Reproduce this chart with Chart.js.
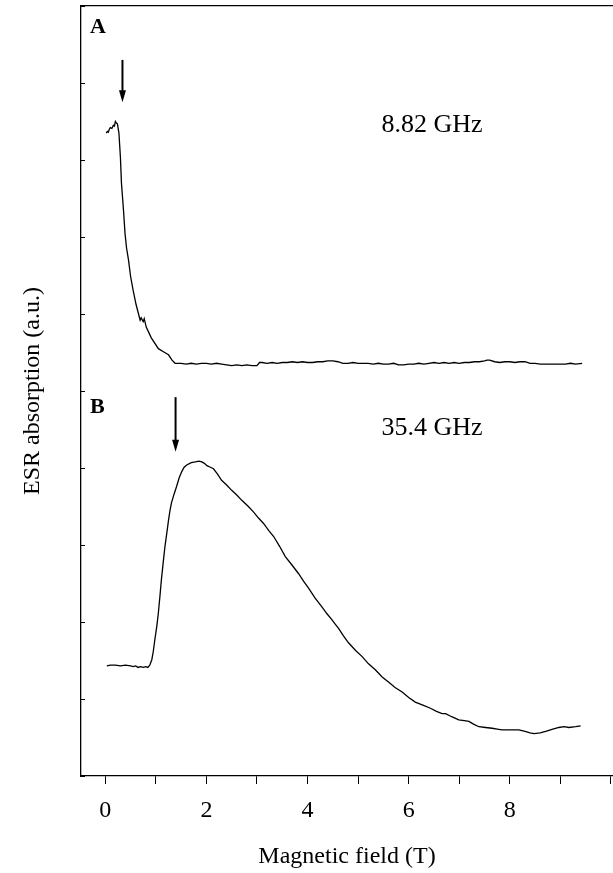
<!DOCTYPE html>
<html>
<head>
<meta charset="utf-8">
<script src="https://cdn.jsdelivr.net/npm/chart.js@4/dist/chart.umd.min.js"></script>
<style>
  body { margin: 0; background: #fff; }
  canvas { display: block; }
</style>
</head>
<body>
<canvas id="esrChart" width="613" height="873"></canvas>
<script>
// spectrum A, 8.82 GHz
const fieldA = [0.02, 0.04, 0.06, 0.08, 0.10, 0.13, 0.16, 0.18, 0.20, 0.22, 0.24, 0.27, 0.30, 0.32, 0.36, 0.39,
    0.42, 0.46, 0.50, 0.55, 0.61, 0.69, 0.71, 0.75, 0.77, 0.81, 0.91, 1.05, 1.15, 1.25, 1.32, 1.38,
    1.5, 1.6, 1.7, 1.8, 1.9, 2.0, 2.1, 2.2, 2.3, 2.4, 2.5, 2.6, 2.7, 2.8, 2.9, 3.0, 3.05, 3.1, 3.2,
    3.3, 3.4, 3.5, 3.6, 3.7, 3.8, 3.9, 4.0, 4.1, 4.2, 4.3, 4.4, 4.5, 4.6, 4.7, 4.8, 4.9, 5.0, 5.1,
    5.2, 5.3, 5.4, 5.5, 5.6, 5.7, 5.8, 5.9, 6.0, 6.1, 6.2, 6.3, 6.4, 6.5, 6.6, 6.7, 6.8, 6.9, 7.0,
    7.1, 7.2, 7.3, 7.4, 7.5, 7.55, 7.6, 7.7, 7.8, 7.9, 8.0, 8.1, 8.2, 8.3, 8.4, 8.5, 8.6, 8.7, 8.8,
    8.9, 9.0, 9.1, 9.2, 9.3, 9.43];
const signalA = [8.35, 8.37, 8.36, 8.40, 8.42, 8.41, 8.45, 8.44, 8.50, 8.48, 8.47, 8.35, 8.03, 7.70, 7.35, 7.05,
    6.86, 6.70, 6.49, 6.31, 6.12, 5.92, 5.95, 5.90, 5.94, 5.83, 5.69, 5.55, 5.51, 5.47, 5.40, 5.36,
    5.36, 5.35, 5.36, 5.35, 5.36, 5.36, 5.35, 5.36, 5.35, 5.34, 5.33, 5.34, 5.33, 5.34, 5.33, 5.33, 5.37, 5.37, 5.36,
    5.37, 5.36, 5.37, 5.37, 5.38, 5.37, 5.38, 5.37, 5.37, 5.38, 5.38, 5.39, 5.39, 5.38, 5.36, 5.36, 5.37, 5.36, 5.36,
    5.36, 5.35, 5.36, 5.35, 5.35, 5.36, 5.34, 5.34, 5.35, 5.35, 5.36, 5.35, 5.36, 5.37, 5.36, 5.37, 5.36, 5.37, 5.36,
    5.37, 5.37, 5.38, 5.38, 5.39, 5.40, 5.40, 5.38, 5.37, 5.38, 5.38, 5.37, 5.38, 5.38, 5.36, 5.36, 5.35, 5.35, 5.35,
    5.35, 5.35, 5.35, 5.36, 5.35, 5.36];

// spectrum B, 35.4 GHz
const fieldB = [0.03, 0.1, 0.2, 0.3, 0.4, 0.5, 0.55, 0.6, 0.65, 0.7, 0.75, 0.8, 0.84, 0.88, 0.92, 0.95, 0.98,
    1.02, 1.05, 1.08, 1.11, 1.15, 1.18, 1.22, 1.25, 1.28, 1.31, 1.36, 1.41, 1.46, 1.51, 1.56, 1.61,
    1.70, 1.78, 1.85, 1.91, 1.96, 2.01, 2.08, 2.14, 2.22, 2.30, 2.40, 2.50, 2.60, 2.70, 2.83, 2.93,
    3.03, 3.13, 3.23, 3.33, 3.45, 3.56, 3.68, 3.82, 3.92, 4.02, 4.15, 4.28, 4.38, 4.48, 4.55, 4.61,
    4.71, 4.81, 4.95, 5.08, 5.2, 5.34, 5.47, 5.60, 5.73, 5.87, 6.0, 6.13, 6.28, 6.43, 6.55, 6.66,
    6.73, 6.85, 6.99, 7.1, 7.19, 7.29, 7.39, 7.52, 7.65, 7.75, 7.85, 8.0, 8.18, 8.3, 8.4, 8.48, 8.6,
    8.71, 8.85, 8.97, 9.07, 9.17, 9.3, 9.40];
const signalB = [1.43, 1.44, 1.44, 1.43, 1.44, 1.43, 1.42, 1.43, 1.41, 1.42, 1.41, 1.42, 1.41, 1.44, 1.51, 1.62, 1.77,
    1.95, 2.12, 2.33, 2.55, 2.80, 2.98, 3.17, 3.32, 3.45, 3.55, 3.66, 3.76, 3.87, 3.95, 4.01, 4.04,
    4.07, 4.08, 4.09, 4.08, 4.06, 4.03, 4.01, 3.99, 3.92, 3.84, 3.78, 3.71, 3.65, 3.58, 3.50, 3.43,
    3.35, 3.28, 3.19, 3.11, 2.98, 2.85, 2.75, 2.63, 2.53, 2.44, 2.31, 2.20, 2.11, 2.03, 1.97, 1.92,
    1.82, 1.73, 1.63, 1.55, 1.46, 1.38, 1.29, 1.22, 1.15, 1.09, 1.02, 0.96, 0.92, 0.88, 0.84, 0.81,
    0.81, 0.77, 0.73, 0.72, 0.71, 0.67, 0.64, 0.63, 0.62, 0.61, 0.60, 0.60, 0.60, 0.58, 0.56, 0.55, 0.56,
    0.58, 0.61, 0.63, 0.64, 0.63, 0.64, 0.65];

// arrows marking the resonance field, and panel texts
const arrowField = [0.34, 1.39];
const arrowTop = [9.30, 4.92];
const arrowTip = [8.75, 4.21];
const panelLabels = ['A', 'B'];
const panelLabelY = [9.72, 4.79];
const freqLabels = ['8.82 GHz', '35.4 GHz'];
const freqLabelX = [7.46, 7.46];
const freqLabelY = [8.36, 4.43];
const yTickValues = [0, 1, 2, 3, 4, 5, 6, 7, 8, 9, 10];

const serif = '"Liberation Serif", "Times New Roman", serif';

function toPoints(xs, ys) {
    return xs.map((v, i) => ({ x: v, y: ys[i] }));
}

function noPadding(s) {
    s.paddingLeft = 0;
    s.paddingRight = 0;
    s.paddingTop = 0;
    s.paddingBottom = 0;
}

const extras = {
    id: 'extras',
    afterDatasetsDraw(chart) {
        const ctx = chart.ctx;
        const x = chart.scales.x;
        const y = chart.scales.y;
        ctx.save();

        // short inward ticks on the left axis
        ctx.strokeStyle = '#000';
        ctx.lineWidth = 1;
        yTickValues.forEach(v => {
            const py = Math.round(y.getPixelForValue(v)) + 0.5;
            ctx.beginPath();
            ctx.moveTo(x.left, py);
            ctx.lineTo(x.left + 4, py);
            ctx.stroke();
        });

        // arrows
        arrowField.forEach((f, i) => {
            const px = x.getPixelForValue(f);
            const top = y.getPixelForValue(arrowTop[i]);
            const tip = y.getPixelForValue(arrowTip[i]);
            ctx.lineWidth = 2;
            ctx.beginPath();
            ctx.moveTo(px, top);
            ctx.lineTo(px, tip - 10);
            ctx.stroke();
            ctx.beginPath();
            ctx.moveTo(px - 3.5, tip - 12);
            ctx.lineTo(px + 3.5, tip - 12);
            ctx.lineTo(px, tip);
            ctx.closePath();
            ctx.fill();
        });

        // panel letters
        ctx.fillStyle = '#000';
        ctx.textBaseline = 'middle';
        ctx.textAlign = 'left';
        ctx.font = 'bold 22px ' + serif;
        panelLabels.forEach((t, i) => {
            ctx.fillText(t, x.getPixelForValue(-0.3), y.getPixelForValue(panelLabelY[i]));
        });

        // frequencies
        ctx.textBaseline = 'alphabetic';
        ctx.textAlign = 'right';
        ctx.font = '26px ' + serif;
        freqLabels.forEach((t, i) => {
            ctx.fillText(t, x.getPixelForValue(freqLabelX[i]), y.getPixelForValue(freqLabelY[i]));
        });

        ctx.restore();
    }
};

const ctx = document.getElementById('esrChart');

new Chart(ctx, {
    type: 'line',
    data: {
        datasets: [{
            label: '8.82 GHz',
            data: toPoints(fieldA, signalA),
            borderColor: '#000',
            borderWidth: 1.3,
            pointRadius: 0,
            tension: 0
        },
        {
            label: '35.4 GHz',
            data: toPoints(fieldB, signalB),
            borderColor: '#000',
            borderWidth: 1.3,
            pointRadius: 0,
            tension: 0
        }]
    },
    options: {
        responsive: false,
        animation: false,
        devicePixelRatio: 1,
        layout: { padding: 0 },
        plugins: {
            legend: { display: false },
            tooltip: { enabled: false }
        },
        scales: {
            x: {
                type: 'linear',
                position: 'bottom',
                min: -0.48,
                max: 10.04,
                border: { display: true, color: '#000', width: 1.3 },
                grid: { drawOnChartArea: false, drawTicks: true, tickLength: 8, color: '#000', lineWidth: 1 },
                ticks: {
                    stepSize: 1,
                    includeBounds: false,
                    autoSkip: false,
                    maxRotation: 0,
                    padding: 12,
                    color: '#000',
                    font: { family: serif, size: 24 },
                    callback: v => (v % 2 === 0 && v >= 0 && v <= 8) ? String(v) : ''
                },
                title: {
                    display: true,
                    text: 'Magnetic field (T)',
                    color: '#000',
                    font: { family: serif, size: 24 },
                    padding: { top: 0, bottom: 2 }
                },
                afterFit: s => { s.height = 97; noPadding(s); }
            },
            x2: {
                type: 'linear',
                position: 'top',
                min: -0.48,
                max: 10.04,
                border: { display: true, color: '#000', width: 1.3 },
                grid: { display: false },
                ticks: { display: false },
                afterFit: s => { s.height = 6; noPadding(s); }
            },
            y: {
                min: 0,
                max: 10,
                border: { display: true, color: '#000', width: 1.3 },
                grid: { display: false },
                ticks: { display: false },
                title: {
                    display: true,
                    text: 'ESR absorption (a.u.)',
                    color: '#000',
                    font: { family: serif, size: 24 },
                    padding: { top: 18, bottom: 0 }
                },
                afterFit: s => { s.width = 81; noPadding(s); }
            }
        }
    },
    plugins: [extras]
});
</script>
</body>
</html>
